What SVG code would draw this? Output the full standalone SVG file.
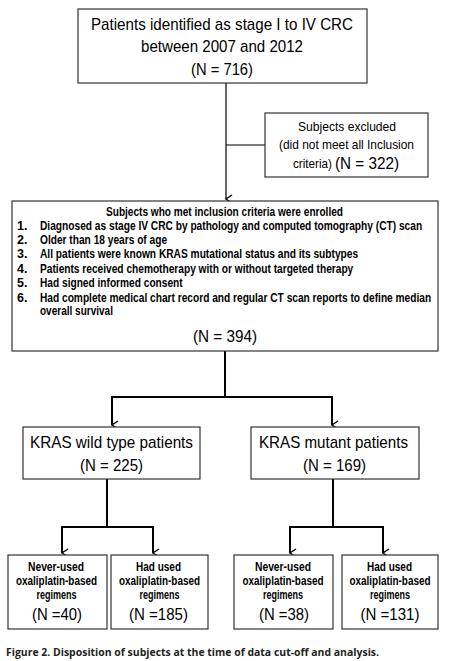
<svg xmlns="http://www.w3.org/2000/svg" width="451" height="661" viewBox="0 0 451 661">
<defs>
<marker id="arr" markerWidth="10" markerHeight="10" refX="5" refY="8" orient="auto" markerUnits="userSpaceOnUse" viewBox="0 0 10 10">
<polyline points="1,2 5,8 9,2" fill="none" stroke="#000" stroke-width="1.4"/>
</marker>
</defs>
<style>
.box{fill:#fff;stroke:#333;stroke-width:1.2}
.t{font-family:"Liberation Sans",Arial,sans-serif;fill:#000}
.big{font-size:17px}
.mid{font-size:13px}
.b{font-family:"Liberation Sans",Arial,sans-serif;font-weight:bold;font-size:12.5px;fill:#000}
.c{stroke:#000;fill:none}
.cap{font-family:"Open Sans","Liberation Sans",sans-serif;font-weight:bold;font-size:11px;fill:#231f20}
</style>
<rect width="451" height="661" fill="#fff"/>
<g id="connectors">
<line class="c" stroke-width="1.2" x1="226" y1="83" x2="226" y2="199" marker-end="url(#arr)"/>
<line class="c" stroke-width="1.2" x1="226" y1="145" x2="265" y2="145"/>
<line class="c" stroke-width="2" x1="225" y1="351" x2="225" y2="397"/>
<polyline class="c" stroke-width="2" points="112,397 332,397"/>
<line class="c" stroke-width="2" x1="112" y1="396" x2="112" y2="425" marker-end="url(#arr)"/>
<line class="c" stroke-width="2" x1="332" y1="396" x2="332" y2="425" marker-end="url(#arr)"/>
<line class="c" stroke-width="2" x1="107" y1="479" x2="107" y2="527"/>
<polyline class="c" stroke-width="2" points="62,527 153,527"/>
<line class="c" stroke-width="2" x1="62" y1="526" x2="62" y2="553" marker-end="url(#arr)"/>
<line class="c" stroke-width="2" x1="153" y1="526" x2="153" y2="553" marker-end="url(#arr)"/>
<line class="c" stroke-width="2" x1="333" y1="479" x2="333" y2="527"/>
<polyline class="c" stroke-width="2" points="290,527 383,527"/>
<line class="c" stroke-width="2" x1="290" y1="526" x2="290" y2="553" marker-end="url(#arr)"/>
<line class="c" stroke-width="2" x1="383" y1="526" x2="383" y2="553" marker-end="url(#arr)"/>
</g>
<g id="identified">
<rect class="box" x="78" y="9" width="289" height="74"/>
<text class="t big" x="222" y="30" text-anchor="middle" textLength="262" lengthAdjust="spacingAndGlyphs">Patients identified as stage I to IV CRC</text>
<text class="t big" x="222" y="52" text-anchor="middle" textLength="162" lengthAdjust="spacingAndGlyphs">between 2007 and 2012</text>
<text class="t big" x="222" y="75" text-anchor="middle" textLength="62" lengthAdjust="spacingAndGlyphs">(N = 716)</text>
</g>
<g id="excluded">
<rect class="box" x="265" y="113" width="163" height="64"/>
<text class="t mid" x="347" y="131" text-anchor="middle" textLength="98" lengthAdjust="spacingAndGlyphs">Subjects excluded</text>
<text class="t mid" x="346.5" y="149" text-anchor="middle" textLength="135" lengthAdjust="spacingAndGlyphs">(did not meet all Inclusion</text>
<text class="t" x="293" y="168" font-size="13" textLength="39" lengthAdjust="spacingAndGlyphs">criteria)</text>
<text class="t" x="335" y="169" font-size="16" textLength="64" lengthAdjust="spacingAndGlyphs">(N = 322)</text>
</g>
<g id="enrolled">
<rect class="box" x="12" y="201" width="426" height="150"/>
<text class="b" x="224.5" y="216" text-anchor="middle" textLength="237" lengthAdjust="spacingAndGlyphs">Subjects who met inclusion criteria were enrolled</text>
<text class="b" x="17" y="230">1.</text>
<text class="b" x="17" y="244">2.</text>
<text class="b" x="17" y="258">3.</text>
<text class="b" x="17" y="273">4.</text>
<text class="b" x="17" y="287">5.</text>
<text class="b" x="17" y="302">6.</text>
<g transform="translate(40,0) scale(0.82,1)">
<text class="b" x="0" y="230" textLength="466" lengthAdjust="spacingAndGlyphs">Diagnosed as stage IV CRC by pathology and computed tomography (CT) scan</text>
<text class="b" x="0" y="244" textLength="155" lengthAdjust="spacingAndGlyphs">Older than 18 years of age</text>
<text class="b" x="0" y="258" textLength="388" lengthAdjust="spacingAndGlyphs">All patients were known KRAS mutational status and its subtypes</text>
<text class="b" x="0" y="273" textLength="382" lengthAdjust="spacingAndGlyphs">Patients received chemotherapy with or without targeted therapy</text>
<text class="b" x="0" y="287" textLength="174" lengthAdjust="spacingAndGlyphs">Had signed informed consent</text>
<text class="b" x="0" y="302" textLength="477" lengthAdjust="spacingAndGlyphs">Had complete medical chart record and regular CT scan reports to define median</text>
<text class="b" x="0" y="315" textLength="89" lengthAdjust="spacingAndGlyphs">overall survival</text>
</g>
<text class="t big" x="225" y="342" text-anchor="middle" textLength="64" lengthAdjust="spacingAndGlyphs">(N = 394)</text>
</g>
<g id="wild">
<rect class="box" x="23" y="427" width="177" height="52"/>
<text class="t big" x="111.5" y="448" text-anchor="middle" textLength="163" lengthAdjust="spacingAndGlyphs">KRAS wild type patients</text>
<text class="t big" x="111.5" y="471" text-anchor="middle" textLength="63" lengthAdjust="spacingAndGlyphs">(N = 225)</text>
</g>
<g id="mutant">
<rect class="box" x="251" y="427" width="168" height="52"/>
<text class="t big" x="333.5" y="448" text-anchor="middle" textLength="149" lengthAdjust="spacingAndGlyphs">KRAS mutant patients</text>
<text class="t big" x="334.5" y="471" text-anchor="middle" textLength="63" lengthAdjust="spacingAndGlyphs">(N = 169)</text>
</g>
<g id="wild-never">
<rect class="box" x="8" y="555" width="99" height="74"/>
<text class="b" x="56" y="571" text-anchor="middle" textLength="56" lengthAdjust="spacingAndGlyphs">Never-used</text>
<text class="b" x="56.5" y="585" text-anchor="middle" textLength="81" lengthAdjust="spacingAndGlyphs">oxaliplatin-based</text>
<text class="b" x="56.5" y="599" text-anchor="middle" textLength="40" lengthAdjust="spacingAndGlyphs">regimens</text>
<text class="t big" x="57" y="620" text-anchor="middle" textLength="50" lengthAdjust="spacingAndGlyphs">(N =40)</text>
</g>
<g id="wild-used">
<rect class="box" x="111" y="555" width="97" height="74"/>
<text class="b" x="158.5" y="571" text-anchor="middle" textLength="45" lengthAdjust="spacingAndGlyphs">Had used</text>
<text class="b" x="159.5" y="585" text-anchor="middle" textLength="81" lengthAdjust="spacingAndGlyphs">oxaliplatin-based</text>
<text class="b" x="159.5" y="599" text-anchor="middle" textLength="40" lengthAdjust="spacingAndGlyphs">regimens</text>
<text class="t big" x="158.5" y="620" text-anchor="middle" textLength="59" lengthAdjust="spacingAndGlyphs">(N =185)</text>
</g>
<g id="mutant-never">
<rect class="box" x="234" y="555" width="99" height="74"/>
<text class="b" x="283" y="571" text-anchor="middle" textLength="56" lengthAdjust="spacingAndGlyphs">Never-used</text>
<text class="b" x="283" y="585" text-anchor="middle" textLength="81" lengthAdjust="spacingAndGlyphs">oxaliplatin-based</text>
<text class="b" x="283" y="599" text-anchor="middle" textLength="40" lengthAdjust="spacingAndGlyphs">regimens</text>
<text class="t big" x="284" y="620" text-anchor="middle" textLength="50" lengthAdjust="spacingAndGlyphs">(N =38)</text>
</g>
<g id="mutant-used">
<rect class="box" x="342" y="555" width="96" height="74"/>
<text class="b" x="389.5" y="571" text-anchor="middle" textLength="45" lengthAdjust="spacingAndGlyphs">Had used</text>
<text class="b" x="390" y="585" text-anchor="middle" textLength="81" lengthAdjust="spacingAndGlyphs">oxaliplatin-based</text>
<text class="b" x="390" y="599" text-anchor="middle" textLength="40" lengthAdjust="spacingAndGlyphs">regimens</text>
<text class="t big" x="390" y="620" text-anchor="middle" textLength="59" lengthAdjust="spacingAndGlyphs">(N =131)</text>
</g>
<text class="cap" x="6" y="656" textLength="373" lengthAdjust="spacingAndGlyphs">Figure 2. Disposition of subjects at the time of data cut-off and analysis.</text>
</svg>
